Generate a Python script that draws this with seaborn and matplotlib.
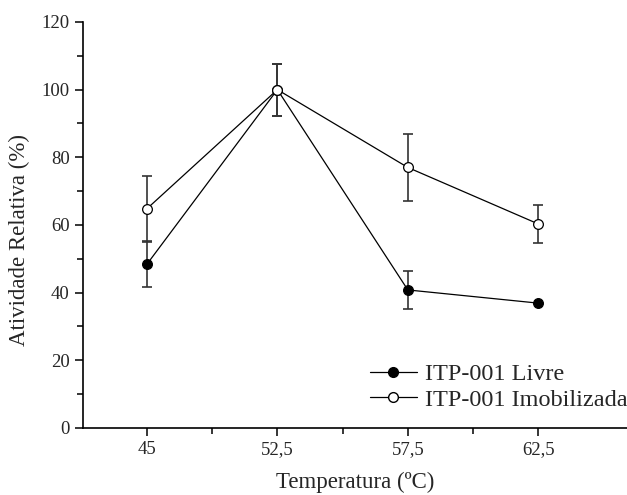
import matplotlib
matplotlib.use("Agg")
import matplotlib.pyplot as plt
import seaborn as sns
import pandas as pd
import numpy as np
from matplotlib.ticker import MultipleLocator, FixedLocator
from matplotlib.lines import Line2D

sns.set_style("ticks")
plt.rcParams['font.family'] = ['Liberation Serif', 'DejaVu Serif']

temps = ["45", "52,5", "57,5", "62,5"]
livre = [48.4, 100.0, 40.8, 36.9]
livre_err = [6.8, 7.7, 5.5, 0.0]
imob = [64.8, 100.0, 77.0, 60.3]
imob_err = [9.8, 7.7, 9.9, 5.5]
series_names = ["ITP-001 Livre", "ITP-001 Imobilizada"]

pos = np.arange(len(temps))
df = pd.DataFrame({
    "pos": np.concatenate([pos, pos]),
    "val": livre + imob,
    "serie": [series_names[0]] * len(temps) + [series_names[1]] * len(temps),
})

fig = plt.figure(figsize=(6.27, 4.95), dpi=100)
ax = fig.add_axes([0.1324, 0.1354, 0.8676, 0.8202])

ax.errorbar(pos, livre, yerr=livre_err, fmt='none', ecolor='#333333',
            elinewidth=1.2, capsize=3.5, capthick=1.2, zorder=1)
ax.errorbar(pos, imob, yerr=imob_err, fmt='none', ecolor='#333333',
            elinewidth=1.2, capsize=3.5, capthick=1.2, zorder=1)

sns.lineplot(data=df, x="pos", y="val", hue="serie", style="serie",
             palette=["black", "black"], markers=["o", "o"], dashes=False,
             linewidth=0.9, markersize=7, ax=ax, legend=False, zorder=2)
lines = ax.get_lines()[-2:]
lines[0].set_markerfacecolor("black")
lines[0].set_markeredgecolor("black")
lines[1].set_markerfacecolor("white")
lines[1].set_markeredgecolor("black")
for ln in lines:
    ln.set_markeredgewidth(0.9)

ax.set_xlim(-0.49, 3.68)
ax.set_ylim(0, 120)
ax.set_xticks(pos)
ax.set_xticklabels(temps)
ax.xaxis.set_minor_locator(FixedLocator(pos[:-1] + 0.5))
ax.yaxis.set_major_locator(MultipleLocator(20))
ax.yaxis.set_minor_locator(MultipleLocator(10))
ax.tick_params(axis='both', which='major', direction='out', length=6, width=1.1, labelsize=13.5, color='black')
ax.tick_params(axis='both', which='minor', direction='out', length=4, width=1.1, color='black')
sns.despine(ax=ax)
for s in ['left', 'bottom']:
    ax.spines[s].set_linewidth(1.2)
    ax.spines[s].set_color('black')

ax.set_xlabel("Temperatura (ºC)", fontsize=16.5, labelpad=10)
ax.set_ylabel("Atividade Relativa (%)", fontsize=16.5)
ax.yaxis.set_label_coords(-0.097, 0.463)

handles = [
    Line2D([], [], color='black', lw=0.9, marker='o', markersize=7, markerfacecolor='black', markeredgecolor='black'),
    Line2D([], [], color='black', lw=0.9, marker='o', markersize=7, markerfacecolor='white', markeredgecolor='black'),
]
ax.legend(handles, series_names, loc='center left', bbox_to_anchor=(0.5276, 0.101), frameon=False,
          fontsize=17.5, handlelength=1.93, handletextpad=0.33, labelspacing=0.15,
          borderpad=0, borderaxespad=0)

fig.savefig("out.png", dpi=100)
